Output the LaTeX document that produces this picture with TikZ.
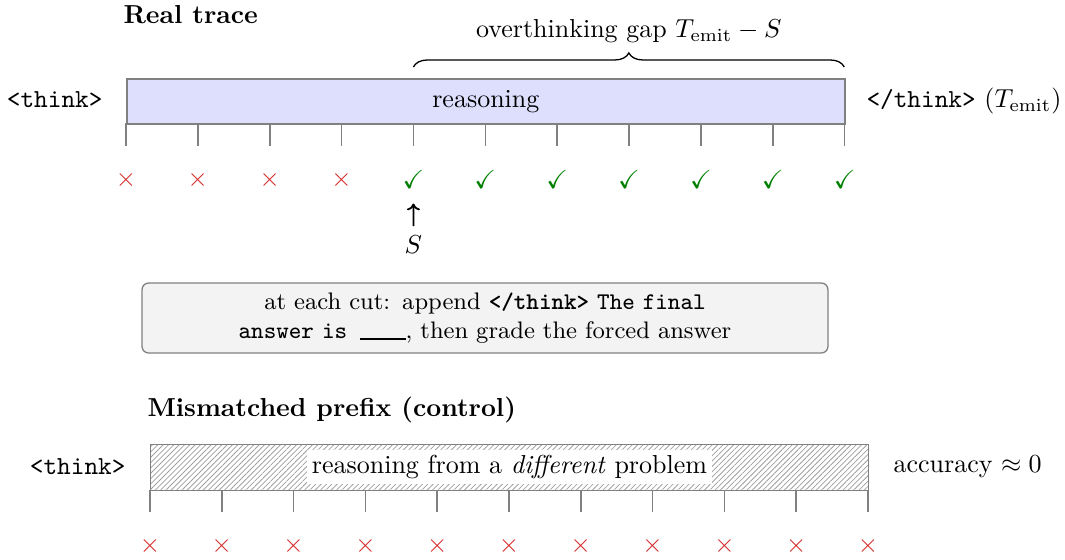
\documentclass[tikz,border=0pt]{standalone}
\usepackage{amssymb}
\usetikzlibrary{decorations.pathreplacing,patterns.meta,arrows.meta}
\definecolor{barfill}{RGB}{221,223,252}
\definecolor{edgegray}{RGB}{128,128,128}
\definecolor{xred}{RGB}{214,39,40}
\definecolor{okgreen}{RGB}{0,128,0}
\definecolor{boxfill}{RGB}{243,243,243}
\begin{document}
\begin{tikzpicture}[x=0.3846pt,y=-0.3846pt,
  title/.style={font=\bfseries, anchor=base west, inner sep=0},
  lab/.style={inner sep=0},
  bar/.style={draw=edgegray, line width=0.6pt, inner sep=0, anchor=north west,
    minimum width=276.2pt},
  tickline/.style={draw=edgegray, line width=0.6pt},
  bad/.style={text=xred, inner sep=0},
  good/.style={text=okgreen, inner sep=0},
  note/.style={draw=edgegray, fill=boxfill, rounded corners=2.5pt, line width=0.5pt,
    align=center, text width=195pt, inner xsep=34.4pt, inner ysep=3pt,
    minimum height=26.9pt, font=\fontsize{9.2}{11.3}\selectfont},
  bracestyle/.style={decorate, decoration={brace, amplitude=5.4pt}, line width=0.5pt},
  pointer/.style={-{To[length=2.6pt,width=5pt]}, line width=0.7pt},
]
\useasboundingbox (0,0) rectangle (1065,560);

% ---------- Real trace ----------
\node[title] (t1) at (123,23) {Real trace};
\node[bar, fill=barfill, minimum height=17.3pt] (rbar) at (126,78) {reasoning};
\node[lab, anchor=east] (open1) at (103,100) {\texttt{<think>}};
\node[lab, anchor=west] (close1) at (866,101) {\texttt{</think>} ($T_{\mathrm{emit}}$)};

\foreach \i in {0,...,10}
  \draw[tickline] (126+71.86*\i,123) -- (126+71.86*\i,146);
\foreach \i in {0,...,3}
  \node[bad] (r\i) at (126+71.86*\i,180) {$\times$};
\foreach \i in {4,...,10}
  \node[good] (r\i) at (126+71.86*\i,180) {$\checkmark$};

\coordinate (bl) at (413.4,67);
\coordinate (br) at (844.3,67);
\draw[bracestyle] (bl) -- (br);
\node[lab] (gap) at (628.8,31) {overthinking gap $T_{\mathrm{emit}}-S$};

\node[lab] (S) at (413.4,245) {$S$};
\draw[pointer, shorten <=3.6pt, shorten >=5.4pt] (S) -- (r4);

% ---------- note ----------
\node[note] (note) at (485,318)
  {at each cut: append \texttt{\textbf{</think>} The final answer is}\hspace{5pt}\rule[-0.4pt]{17.5pt}{0.5pt}, then grade the forced answer};

% ---------- Mismatched prefix ----------
\node[title] (t2) at (147,416) {Mismatched prefix (control)};
\node[bar, minimum height=17.7pt,
  pattern={Lines[angle=45,distance=1.45pt,line width=0.3pt]}, pattern color=gray!75] (mbar) at (150,444) {};
\node[fill=white, inner sep=2pt] (mlab) at (mbar.center) {reasoning from a \emph{different} problem};
\node[lab, anchor=east] (open2) at (126,467) {\texttt{<think>}};
\node[lab, anchor=west] (acc) at (893,467) {accuracy $\approx 0$};

\foreach \i in {0,...,10}
  \draw[tickline] (150+71.8*\i,490) -- (150+71.8*\i,512);
\foreach \i in {0,...,10}
  \node[bad] (m\i) at (150+71.8*\i,546) {$\times$};
\end{tikzpicture}
\end{document}
